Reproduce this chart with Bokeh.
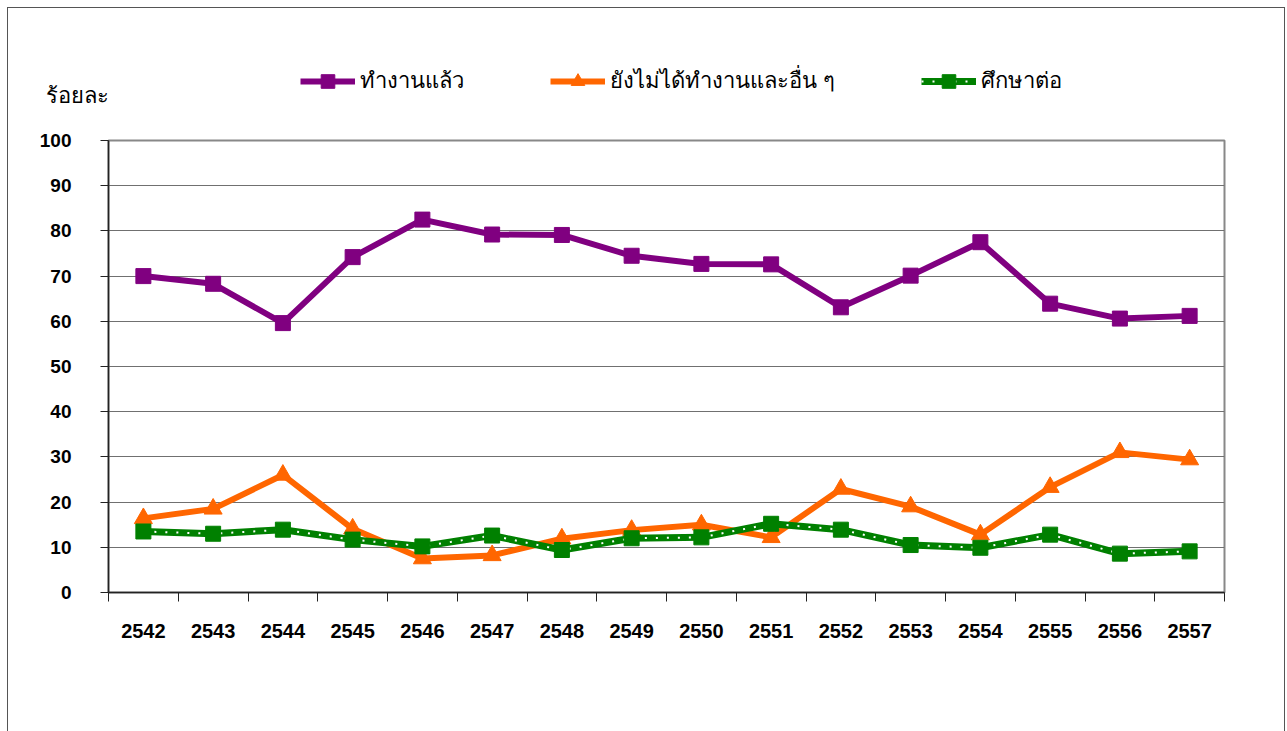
from bokeh.plotting import figure
from bokeh.layouts import column
from bokeh.models import FixedTicker, Legend, LegendItem, Range1d, Label
from bokeh.embed import file_html
from bokeh.resources import INLINE

years = ["2542", "2543", "2544", "2545", "2546", "2547", "2548", "2549",
         "2550", "2551", "2552", "2553", "2554", "2555", "2556", "2557"]
employed = [70.0, 68.3, 59.6, 74.2, 82.5, 79.2, 79.1, 74.5,
            72.7, 72.6, 63.1, 70.1, 77.5, 63.9, 60.6, 61.2]
not_employed = [16.4, 18.5, 26.0, 14.1, 7.5, 8.2, 11.9, 13.8,
                15.0, 12.2, 22.9, 19.0, 12.8, 23.3, 31.0, 29.4]
studying = [13.5, 13.0, 13.9, 11.7, 10.2, 12.6, 9.4, 12.0,
            12.2, 15.2, 13.9, 10.5, 9.9, 12.8, 8.6, 9.1]
y_ticks = [0, 10, 20, 30, 40, 50, 60, 70, 80, 90, 100]
labels = ["ทำงานแล้ว", "ยังไม่ได้ทำงานและอื่น ๆ", "ศึกษาต่อ"]
y_title = "ร้อยละ"

NUM_FONT = "Liberation Sans"
THAI_FONT = "Noto Sans"
PURPLE, ORANGE, GREEN = "#800080", "#FF6600", "#008000"
BORDER = "1px solid #555"

xs = [i + 0.5 for i in range(len(years))]

# ---------- header strip: caption + legend ----------
W = 1278
HEAD_H = 100
head = figure(width=W, height=HEAD_H, output_backend="svg", toolbar_location=None,
              x_range=Range1d(0, W - 2), y_range=Range1d(HEAD_H - 1, 0),
              x_axis_type=None, y_axis_type=None,
              min_border=0, min_border_left=0, min_border_right=0,
              min_border_top=0, min_border_bottom=0,
              background_fill_color="white", border_fill_color="white")
head.frame_align = False
head.title.visible = False
head.outline_line_color = None
head.grid.visible = False
head.styles = {"border-left": BORDER, "border-top": BORDER, "border-right": BORDER}

# legend sample renderers (kept outside the visible ranges)
off = [-500, -400]
h1l = head.line(off, off, line_color=PURPLE, line_width=6)
h1m = head.scatter(off, off, marker="square", size=15, fill_color=PURPLE, line_color=PURPLE)
h2l = head.line(off, off, line_color=ORANGE, line_width=6)
h2m = head.scatter(off, off, marker="triangle", size=18, fill_color=ORANGE, line_color=ORANGE)
h3l = head.line(off, off, line_color=GREEN, line_width=7)
h3d = head.line(off, off, line_color="white", line_width=2, line_dash="2 9")
h3m = head.scatter(off, off, marker="square", size=15, fill_color=GREEN, line_color=GREEN)

legend = Legend(items=[LegendItem(label=labels[0], renderers=[h1l, h1m]),
                       LegendItem(label=labels[1], renderers=[h2l, h2m]),
                       LegendItem(label=labels[2], renderers=[h3l, h3d, h3m])],
                orientation="horizontal", location=(292, 10),
                glyph_width=55, glyph_height=34, label_standoff=5, spacing=86,
                padding=0, margin=0, border_line_color=None,
                background_fill_alpha=0,
                label_text_font=THAI_FONT, label_text_font_size="22px",
                label_text_color="black")
head.add_layout(legend, "center")

head.add_layout(Label(x=37, y=85, text=y_title, text_font=THAI_FONT,
                      text_font_size="22px", text_baseline="middle",
                      text_color="black"))

# ---------- main chart ----------
MAIN_H = 624
p = figure(width=W, height=MAIN_H, output_backend="svg", toolbar_location=None,
           x_range=Range1d(0, len(years)), y_range=Range1d(0, 100),
           min_border_left=100, min_border_right=62, min_border_top=33,
           min_border_bottom=139, background_fill_color="white",
           border_fill_color="white")
p.frame_align = False
p.title.visible = False
p.styles = {"border-left": BORDER, "border-right": BORDER}

p.outline_line_color = "#888888"
p.outline_line_width = 2

p.xgrid.visible = False
p.ygrid.ticker = FixedTicker(ticks=y_ticks[1:-1])
p.ygrid.grid_line_color = "#707070"
p.ygrid.grid_line_width = 1

p.yaxis.ticker = FixedTicker(ticks=y_ticks)
p.yaxis.axis_line_color = "#222222"
p.yaxis.axis_line_width = 1.5
p.yaxis.major_tick_out = 8
p.yaxis.major_tick_in = 0
p.yaxis.major_tick_line_color = "#222222"
p.yaxis.minor_tick_line_color = None
p.yaxis.major_label_text_font = NUM_FONT
p.yaxis.major_label_text_font_style = "bold"
p.yaxis.major_label_text_font_size = "19px"
p.yaxis.major_label_text_color = "black"
p.yaxis.major_label_standoff = 29

p.xaxis.ticker = FixedTicker(ticks=xs, minor_ticks=list(range(len(years) + 1)))
p.xaxis.major_label_overrides = {x: y for x, y in zip(xs, years)}
p.xaxis.axis_line_color = "#222222"
p.xaxis.axis_line_width = 1.5
p.xaxis.major_tick_line_color = None
p.xaxis.major_tick_out = 0
p.xaxis.major_tick_in = 0
p.xaxis.minor_tick_out = 9
p.xaxis.minor_tick_in = 0
p.xaxis.minor_tick_line_color = "#222222"
p.xaxis.major_label_text_font = NUM_FONT
p.xaxis.major_label_text_font_style = "bold"
p.xaxis.major_label_text_font_size = "20px"
p.xaxis.major_label_text_color = "black"
p.xaxis.major_label_standoff = 22

p.line(xs, employed, line_color=PURPLE, line_width=6)
p.scatter(xs, employed, marker="square", size=15, fill_color=PURPLE, line_color=PURPLE)
p.line(xs, not_employed, line_color=ORANGE, line_width=6)
p.scatter(xs, not_employed, marker="triangle", size=18, fill_color=ORANGE,
          line_color=ORANGE)
p.line(xs, studying, line_color=GREEN, line_width=7)
p.line(xs, studying, line_color="white", line_width=2, line_dash="2 9")
p.scatter(xs, studying, marker="square", size=15, fill_color=GREEN, line_color=GREEN)

layout = column(head, p, spacing=0)
layout.styles = {"margin-left": "7px", "margin-top": "7px"}

open("out.html", "w").write(file_html(layout, INLINE))
